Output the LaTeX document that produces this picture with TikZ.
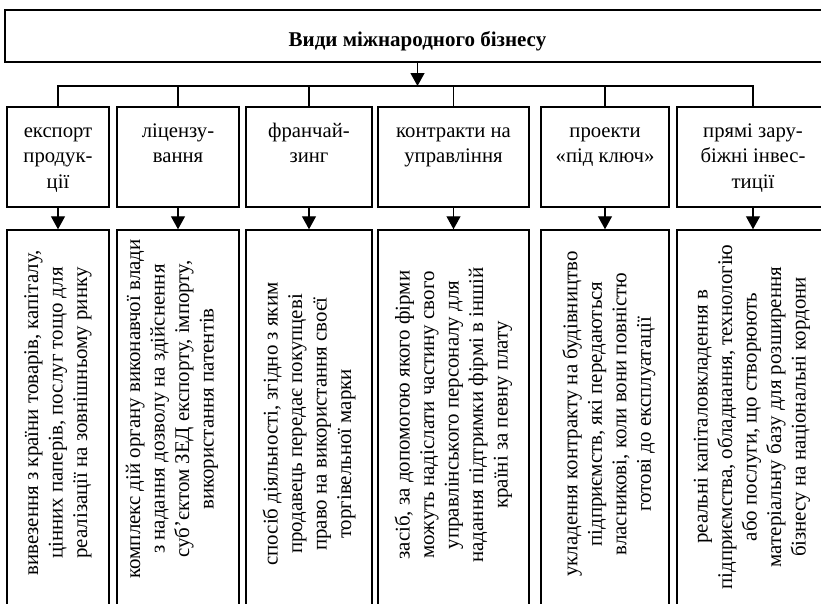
\documentclass[tikz,border=0pt]{standalone}
\usepackage{fontspec}
\setmainfont{Liberation Serif}
\usetikzlibrary{arrows.meta}
\begin{document}
\begin{tikzpicture}[x=1pt,y=-1pt,
  topbox/.style={draw, line width=1.5pt, inner sep=0pt, minimum height=100pt},
  botbox/.style={draw, line width=1.5pt, inner sep=0pt, minimum height=420pt},
  toptext/.style={anchor=north, inner sep=0pt, align=center,
    font=\fontsize{20.7}{25.5}\selectfont},
  bottext/.style={rotate=90, inner sep=0pt, align=center,
    font=\fontsize{20.9}{24.5}\selectfont},
  conn/.style={line width=1.3pt},
  arr/.style={line width=1.3pt, -{Triangle[width=14pt,length=13pt]}}]
\useasboundingbox (0,0) rectangle (821,603);
\clip (0,0) rectangle (821,603);
\fill[white] (0,0) rectangle (821,603);

% title
\node[draw, line width=1.5pt, inner sep=0pt, minimum width=825pt, minimum height=52pt] (title) at (417.5,36) {};
\node[inner sep=0pt, font=\fontsize{21}{25}\selectfont\bfseries] (titletext) at (417.5,41) {Види міжнародного бізнесу};

% top boxes
\node[topbox, minimum width=102pt] (t1) at (58,157) {};
\node[topbox, minimum width=122pt] (t2) at (178,157) {};
\node[topbox, minimum width=126pt] (t3) at (309,157) {};
\node[topbox, minimum width=151pt] (t4) at (453.5,157) {};
\node[topbox, minimum width=128pt] (t5) at (605,157) {};
\node[topbox, minimum width=152pt] (t6) at (753,157) {};

\node[toptext] (tt1) at (58,119) {\rule{0pt}{17.8pt}експорт\\продук-\\ції};
\node[toptext] (tt2) at (178,119) {\rule{0pt}{17.8pt}ліцензу-\\вання};
\node[toptext] (tt3) at (309,119) {\rule{0pt}{17.8pt}франчай-\\зинг};
\node[toptext] (tt4) at (453.5,119) {\rule{0pt}{17.8pt}контракти на\\управління};
\node[toptext] (tt5) at (605,119) {\rule{0pt}{17.8pt}проекти\\«під ключ»};
\node[toptext] (tt6) at (753,119) {\rule{0pt}{17.8pt}прямі зару-\\біжні інвес-\\тиції};

% bottom boxes
\node[botbox, minimum width=102pt] (b1) at (58,440) {};
\node[botbox, minimum width=122pt] (b2) at (178,440) {};
\node[botbox, minimum width=126pt] (b3) at (309,440) {};
\node[botbox, minimum width=151pt] (b4) at (453.5,440) {};
\node[botbox, minimum width=128pt] (b5) at (605,440) {};
\node[botbox, minimum width=152pt] (b6) at (753,440) {};

\node[bottext] (bt1) at (58,413) {вивезення з країни товарів, капіталу,\\цінних паперів, послуг тощо для\\реалізації на зовнішньому ринку};
\node[bottext] (bt2) at (172,409) {комплекс дій органу виконавчої влади\\з надання дозволу на здійснення\\суб’єктом ЗЕД експорту, імпорту,\\використання патентів};
\node[bottext] (bt3) at (309,424) {спосіб діяльності, згідно з яким\\продавець передає покупцеві\\право на використання своєї\\торгівельної марки\hspace*{60pt}};
\node[bottext] (bt4) at (453.5,415) {засіб, за допомогою якого фірми\\можуть надіслати частину свого\\управлінського персоналу для\\надання підтримки фірмі в іншій\\країні за певну плату};
\node[bottext] (bt5) at (609,414) {укладення контракту на будівництво\\підприємств, які передаються\\власникові, коли вони повністю\\готові до експлуатації};
\node[bottext] (bt6) at (752,417) {реальні капіталовкладення в\\підприємства, обладнання, технологію\\або послуги, що створюють\\матеріальну базу для розширення\\бізнесу на національні кордони};

% connectors
\coordinate (bus) at (418,86);
\draw[arr] (title.south) -- (title.south |- bus);
\draw[conn] (t1.north) |- (bus) -| (t6.north);
\draw[conn] (t2.north) -- (t2.north |- bus);
\draw[conn] (t3.north) -- (t3.north |- bus);
\draw[conn] (t4.north) -- (t4.north |- bus);
\draw[conn] (t5.north) -- (t5.north |- bus);
\foreach \i in {1,...,6} {\draw[arr] (t\i.south) -- (b\i.north);}
\end{tikzpicture}
\end{document}
